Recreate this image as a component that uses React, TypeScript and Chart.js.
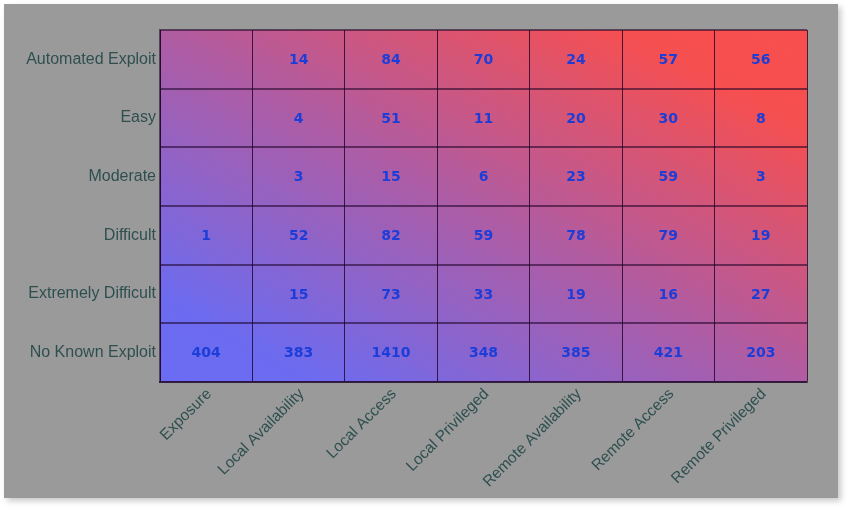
import React, { useEffect, useRef } from 'react';
import { Chart, registerables } from 'chart.js';

Chart.register(...registerables);

const COLS = ['Exposure', 'Local Availability', 'Local Access', 'Local Privileged', 'Remote Availability', 'Remote Access', 'Remote Privileged'];
const ROWS = ['Automated Exploit', 'Easy', 'Moderate', 'Difficult', 'Extremely Difficult', 'No Known Exploit'];

const automatedExploit = [null, 14, 84, 70, 24, 57, 56];
const easy = [null, 4, 51, 11, 20, 30, 8];
const moderate = [null, 3, 15, 6, 23, 59, 3];
const difficult = [1, 52, 82, 59, 78, 79, 19];
const extremelyDifficult = [null, 15, 73, 33, 19, 16, 27];
const noKnownExploit = [404, 383, 1410, 348, 385, 421, 203];

const MATRIX: (number | null)[][] = [automatedExploit, easy, moderate, difficult, extremelyDifficult, noKnownExploit];

type Cell = { x: string; y: string; v: number };
const CELLS: Cell[] = [];
MATRIX.forEach((row, r) =>
  row.forEach((v, c) => {
    if (v !== null) CELLS.push({ x: COLS[c], y: ROWS[r], v });
  })
);

const LABEL_COLOR = '#2f4f4f';
const VGRID_COLOR = 'rgba(25,0,35,0.78)';
const HGRID_COLOR = 'rgba(25,0,35,0.55)';

const gradientPlugin = {
  id: 'gradientBg',
  beforeDraw(chart: any) {
    const { ctx, chartArea } = chart;
    if (!chartArea) return;
    const { left, top, right, bottom } = chartArea;
    const W = right - left;
    const H = bottom - top;
    const cx = (left + right) / 2;
    const cy = (top + bottom) / 2;
    const k = (W * H) / (W * W + H * H);
    const dx = H * k;
    const dy = -W * k;
    const g = ctx.createLinearGradient(cx - dx, cy - dy, cx + dx, cy + dy);
    g.addColorStop(0, 'rgb(106,108,243)');
    g.addColorStop(0.12, 'rgb(108,107,240)');
    g.addColorStop(0.5, 'rgb(176,92,162)');
    g.addColorStop(0.86, 'rgb(246,79,80)');
    g.addColorStop(1, 'rgb(248,78,78)');
    ctx.save();
    ctx.fillStyle = g;
    ctx.fillRect(left, top, W, H);
    ctx.restore();
  },
};

const valuesPlugin = {
  id: 'cellValues',
  afterDatasetsDraw(chart: any) {
    const meta = chart.getDatasetMeta(0);
    const data = chart.data.datasets[0].data as Cell[];
    const ctx = chart.ctx;
    ctx.save();
    ctx.font = 'bold 14px "DejaVu Sans", Verdana, sans-serif';
    ctx.fillStyle = '#1c3dd8';
    ctx.textAlign = 'center';
    ctx.textBaseline = 'middle';
    meta.data.forEach((el: any, i: number) => {
      ctx.fillText(String(data[i].v), el.x, el.y + 1);
    });
    ctx.restore();
  },
};

export default function App() {
  const ref = useRef<HTMLCanvasElement>(null);

  useEffect(() => {
    if (!ref.current) return;
    const chart = new Chart(ref.current, {
      type: 'scatter',
      data: {
        datasets: [
          {
            data: CELLS as any,
            pointRadius: 0,
            pointHoverRadius: 0,
            backgroundColor: 'transparent',
            borderColor: 'transparent',
          },
        ],
      },
      options: {
        animation: false,
        responsive: true,
        maintainAspectRatio: false,
        events: [],
        layout: { padding: { left: 0, top: 26, right: 31, bottom: 0 } },
        plugins: { legend: { display: false }, tooltip: { enabled: false } },
        scales: {
          x: {
            type: 'category',
            labels: COLS,
            offset: true,
            grid: { offset: true, color: VGRID_COLOR, lineWidth: 1, drawTicks: false },
            border: { display: true, color: HGRID_COLOR, width: 2 },
            ticks: {
              color: LABEL_COLOR,
              font: { family: '"Liberation Sans", Arial, sans-serif', size: 15.5 },
              maxRotation: 45,
              minRotation: 45,
              padding: 3,
              labelOffset: 3,
              autoSkip: false,
            },
            afterFit(scale: any) {
              scale.height = 116;
            },
          },
          y: {
            type: 'category',
            labels: ROWS,
            offset: true,
            grid: { offset: true, color: HGRID_COLOR, lineWidth: 2, drawTicks: false },
            border: { display: true, color: HGRID_COLOR, width: 2 },
            ticks: {
              color: LABEL_COLOR,
              font: { family: '"Liberation Sans", Arial, sans-serif', size: 16 },
              padding: 4,
              autoSkip: false,
            },
            afterFit(scale: any) {
              scale.width = 156;
            },
          },
        },
      },
      plugins: [gradientPlugin, valuesPlugin],
    });
    return () => chart.destroy();
  }, []);

  return (
    <div
      style={{
        position: 'absolute',
        left: 4,
        top: 4,
        width: 834,
        height: 494,
        background: '#9a9a9a',
        boxShadow: '3px 3px 6px rgba(0,0,0,0.22)',
      }}
    >
      <canvas ref={ref} />
    </div>
  );
}
